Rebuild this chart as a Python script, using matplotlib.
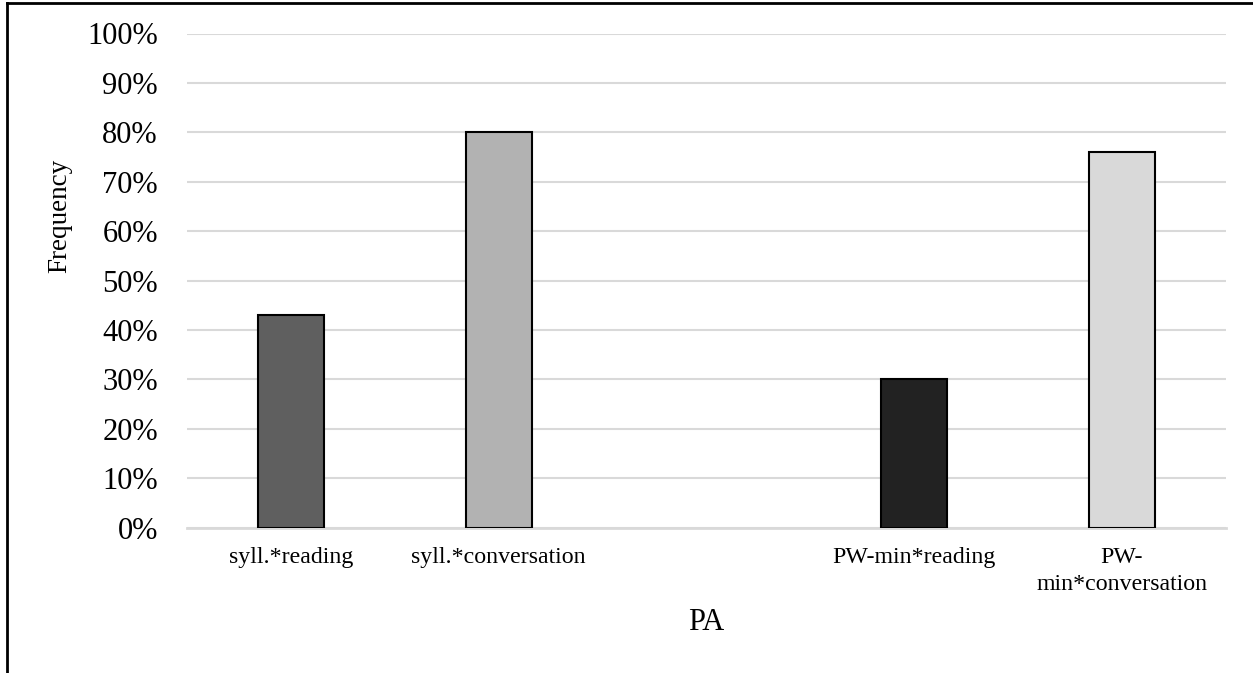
import matplotlib
matplotlib.use("Agg")
import matplotlib.pyplot as plt
from matplotlib.lines import Line2D
from matplotlib.ticker import PercentFormatter

categories = ["syll.*reading", "syll.*conversation", "", "PW-min*reading", "PW-\nmin*conversation"]
values = [43, 80, 0, 30, 76]
colors = ["#5f5f5f", "#b2b2b2", "#ffffff", "#222222", "#d9d9d9"]
yticks = [0, 10, 20, 30, 40, 50, 60, 70, 80, 90, 100]

plt.rcParams['font.family'] = ['Liberation Serif', 'DejaVu Serif']

W, H = 1253, 673
fig = plt.figure(figsize=(W / 100, H / 100), dpi=100)
ax = fig.add_axes([187 / W, 1 - 527.7 / H, (1225.7 - 187) / W, (527.7 - 33.5) / H])

x = list(range(len(categories)))
for xi, v, c in zip(x, values, colors):
    if v > 0:
        ax.bar(xi, v, width=0.318, color=c, edgecolor="black", linewidth=1.5, zorder=3)

ax.set_xlim(-0.5, len(categories) - 0.5)
ax.set_ylim(0, 100)
ax.set_yticks(yticks)
ax.yaxis.set_major_formatter(PercentFormatter(decimals=0))
ax.set_xticks(x)
ax.set_xticklabels(categories, fontsize=17.2, va="top", linespacing=1.35)
ax.tick_params(axis="both", length=0)
ax.tick_params(axis="y", labelsize=22, pad=21)
ax.tick_params(axis="x", pad=14)
ax.grid(axis="y", color="#d9d9d9", linewidth=1.5, zorder=0)
for s in ["top", "right", "left"]:
    ax.spines[s].set_visible(False)
ax.spines["bottom"].set_color("#d9d9d9")
ax.spines["bottom"].set_linewidth(2)
ax.spines["bottom"].set_zorder(2)

fig.text(60 / W, 1 - 216 / H, "Frequency", rotation=90, ha="center", va="center", fontsize=19.5)
fig.text(706 / W, 1 - 623 / H, "PA", ha="center", va="center", fontsize=22)

# figure border (top and left)
fig.add_artist(Line2D([7 / W, 1], [1 - 2.5 / H, 1 - 2.5 / H], transform=fig.transFigure, color="black", linewidth=2))
fig.add_artist(Line2D([7 / W, 7 / W], [0, 1 - 2.5 / H], transform=fig.transFigure, color="black", linewidth=2))

fig.savefig("out.png", dpi=100, facecolor="white")
